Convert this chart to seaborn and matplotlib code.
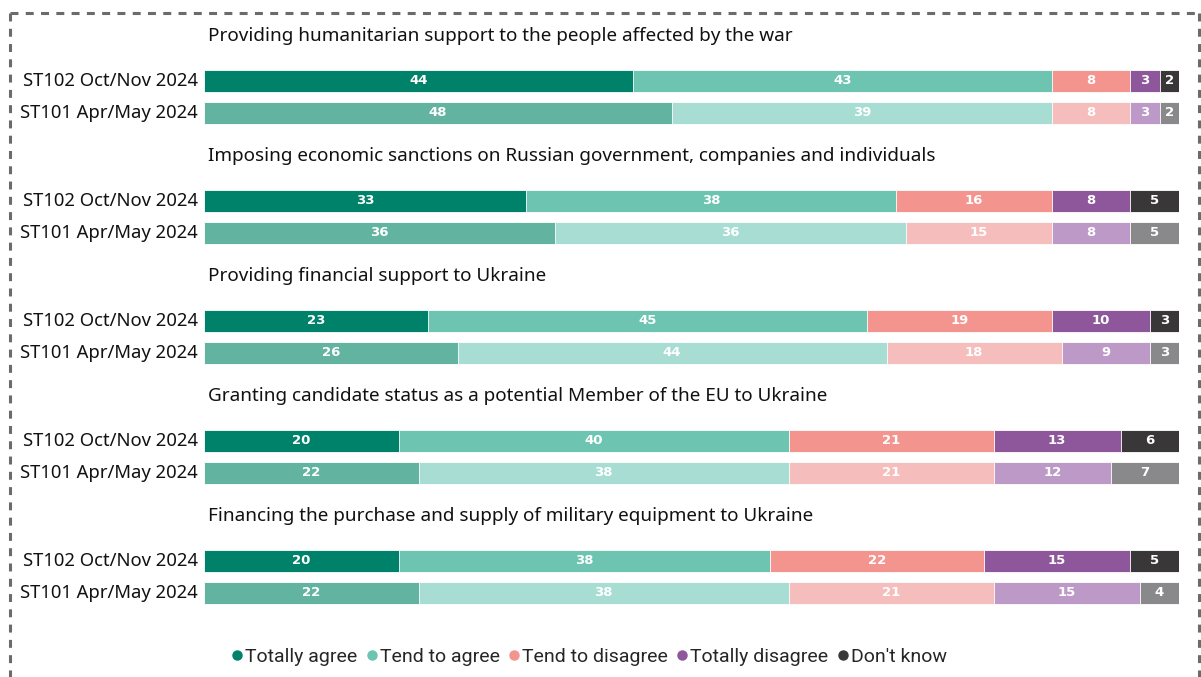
import numpy as np
import pandas as pd
import matplotlib
matplotlib.use("Agg")
import matplotlib.pyplot as plt
from matplotlib.lines import Line2D
import seaborn as sns

# ---- data -------------------------------------------------------------
items = [
    "Providing humanitarian support to the people affected by the war",
    "Imposing economic sanctions on Russian government, companies and individuals",
    "Providing financial support to Ukraine",
    "Granting candidate status as a potential Member of the EU to Ukraine",
    "Financing the purchase and supply of military equipment to Ukraine",
]
waves = ["ST102 Oct/Nov 2024", "ST101 Apr/May 2024"]
responses = ["Totally agree", "Tend to agree", "Tend to disagree",
             "Totally disagree", "Don't know"]

# ST102 Oct/Nov 2024
st102_totally_agree = [44, 33, 23, 20, 20]
st102_tend_agree = [43, 38, 45, 40, 38]
st102_tend_disagree = [8, 16, 19, 21, 22]
st102_totally_disagree = [3, 8, 10, 13, 15]
st102_dont_know = [2, 5, 3, 6, 5]

# ST101 Apr/May 2024
st101_totally_agree = [48, 36, 26, 22, 22]
st101_tend_agree = [39, 36, 44, 38, 38]
st101_tend_disagree = [8, 15, 18, 21, 21]
st101_totally_disagree = [3, 8, 9, 12, 15]
st101_dont_know = [2, 5, 3, 7, 4]

colors_new = ["#00826A", "#6CC4B1", "#F4948F", "#8E569B", "#3A3739"]
colors_old = ["#63B3A1", "#A7DDD2", "#F5BDBC", "#BC99C6", "#89898B"]

# ---- layout (pixel space) ---------------------------------------------
W, H = 1201, 677
GROUP_STEP = 120
TITLE_Y0 = 36
BAR_Y0 = [81, 113]

series = {
    waves[0]: [st102_totally_agree, st102_tend_agree, st102_tend_disagree,
               st102_totally_disagree, st102_dont_know],
    waves[1]: [st101_totally_agree, st101_tend_agree, st101_tend_disagree,
               st101_totally_disagree, st101_dont_know],
}

rows = []
for w_i, wave in enumerate(waves):
    for r_i, resp in enumerate(responses):
        for g, item in enumerate(items):
            rows.append({
                "item": item, "wave": wave, "response": resp, "r": r_i,
                "value": series[wave][r_i][g],
                "ypos": BAR_Y0[w_i] + GROUP_STEP * g,
            })
df = pd.DataFrame(rows)
df = df.sort_values(["wave", "item", "r"])
df["end"] = df.groupby(["wave", "item"])["value"].cumsum()
df["mid"] = df["end"] - df["value"] / 2

sns.set_theme(style="white")
plt.rcParams["font.family"] = ["Noto Sans", "DejaVu Sans"]

fig = plt.figure(figsize=(W / 100, H / 100), dpi=100)
fig.patch.set_facecolor("white")
ax = fig.add_axes([204 / W, 0, 975 / W, 1])

# stacked bars: draw cumulative totals from the last segment to the first
for r_i in reversed(range(len(responses))):
    sub = df[df["r"] == r_i]
    pal = {waves[0]: colors_new[r_i], waves[1]: colors_old[r_i]}
    sns.barplot(data=sub, x="end", y="ypos", hue="wave", palette=pal,
                orient="y", native_scale=True, dodge=False, width=0.66,
                saturation=1, edgecolor="white", linewidth=0.6,
                legend=False, ax=ax)

for _, row in df.iterrows():
    ax.text(row["mid"], row["ypos"], f"{row['value']:d}", ha="center",
            va="center", color="white", fontsize=9.5, fontweight="bold",
            family=["DejaVu Sans"])

ax.set_xlim(0, 100)
ax.set_ylim(H, 0)
ax.set_axis_off()


def fx(x):
    return x / W


def fy(y):
    return 1 - y / H


for g, item in enumerate(items):
    fig.text(fx(208), fy(TITLE_Y0 + GROUP_STEP * g), item, ha="left",
             va="center", fontsize=13.6, color="#111111")
    for w_i, wave in enumerate(waves):
        fig.text(fx(198), fy(BAR_Y0[w_i] + GROUP_STEP * g), wave,
                 ha="right", va="center", fontsize=13.3, color="#111111")

handles = [Line2D([0], [0], marker="o", linestyle="none", markersize=6.5,
                  markerfacecolor=c, markeredgecolor=c) for c in colors_new]
fig.legend(handles, responses, loc="center", ncol=5,
           bbox_to_anchor=(fx(589), fy(657)), frameon=False,
           handlelength=0.6, handletextpad=0.1, columnspacing=0.45,
           prop={"family": "Roboto", "size": 14})

# dashed frame
frame_kw = dict(color="#6b6b6b", linewidth=2.2, linestyle=(0, (2.6, 2.4)),
                transform=fig.transFigure)
fig.add_artist(Line2D([fx(10), fx(1199)], [fy(13), fy(13)], **frame_kw))
fig.add_artist(Line2D([fx(10), fx(10)], [fy(13), fy(H)], **frame_kw))
fig.add_artist(Line2D([fx(1199), fx(1199)], [fy(13), fy(H)], **frame_kw))

fig.savefig("out.png", dpi=100, facecolor="white")
